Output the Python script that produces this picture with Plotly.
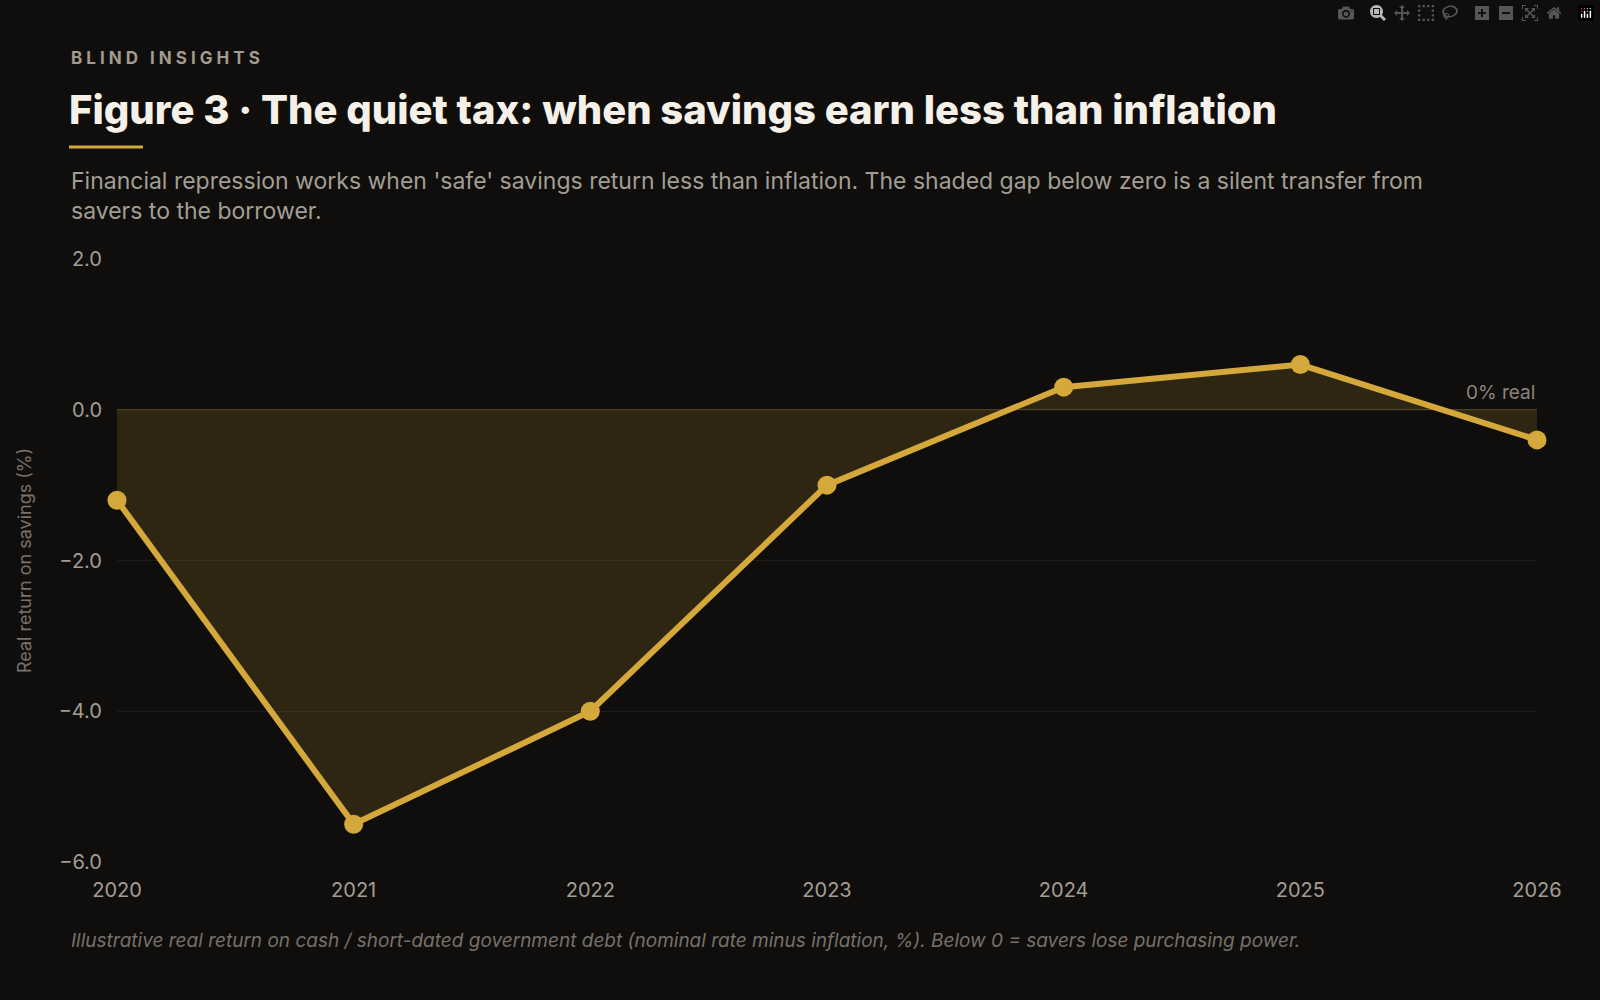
import plotly.graph_objects as go

years = [2020, 2021, 2022, 2023, 2024, 2025, 2026]
real_return = [-1.2, -5.5, -4.0, -1.0, 0.3, 0.6, -0.4]
y_ticks = [2.0, 0.0, -2.0, -4.0, -6.0]

GOLD = '#d4a83a'
FONT = 'Inter, Lato, sans-serif'

W, H = 1600, 1000
L, R, T, B = 117, 63, 259, 138
PW, PH = W - L - R, H - T - B


def px(x):
    return (x - L) / PW


def py(y):
    return (H - B - y) / PH


fig = go.Figure()
fig.add_trace(go.Scatter(
    x=years, y=real_return, mode='lines+markers', fill='tozeroy',
    fillcolor='rgba(212,168,58,0.16)',
    line=dict(color=GOLD, width=6),
    marker=dict(size=19, color=GOLD),
    hoverinfo='x+y', showlegend=False, cliponaxis=False,
))
fig.add_hline(y=0, line_color='rgba(212,168,58,0.3)', line_width=1)

ann = [
    dict(x=px(69), y=py(58), text='<b>B L I N D   I N S I G H T S</b>',
         font=dict(size=17, color='#a39b8c', family=FONT), xanchor='left'),
    dict(x=px(67), y=py(110), text='Figure 3 · The quiet tax: when savings earn less than inflation',
         font=dict(size=40, color='#f5f1e8', family=FONT, weight=800), xanchor='left'),
    dict(x=px(69), y=py(196),
         text="Financial repression works when 'safe' savings return less than inflation. The shaded gap below zero is a silent transfer from<br>savers to the borrower.",
         font=dict(size=23, color='#a39e94', family=FONT), xanchor='left', align='left'),
    dict(x=px(69), y=py(940),
         text='<i>Illustrative real return on cash / short-dated government debt (nominal rate minus inflation, %). Below 0 = savers lose purchasing power.</i>',
         font=dict(size=19, color='#77716a', family=FONT), xanchor='left'),
]
for a in ann:
    fig.add_annotation(xref='paper', yref='paper', yanchor='middle', showarrow=False, **a)
fig.add_annotation(x=2026, y=0, xref='x', yref='y', text='0% real', showarrow=False,
                   xanchor='right', yanchor='bottom', yshift=4,
                   font=dict(size=19, color='#8c857a', family=FONT))

fig.add_shape(type='line', xref='paper', yref='paper', x0=px(69), x1=px(143),
              y0=py(147), y1=py(147), line=dict(color=GOLD, width=3))

fig.update_layout(
    width=W, height=H,
    margin=dict(l=L, r=R, t=T, b=B),
    paper_bgcolor='#0f0e0c', plot_bgcolor='#0f0e0c',
    font=dict(family=FONT, color='#a39e94'),
    xaxis=dict(range=[2020, 2026], tickvals=years, showgrid=False, zeroline=False,
               tickfont=dict(size=20, color='#a39e94'), ticks='', ticklabelstandoff=14),
    yaxis=dict(range=[-6, 2], tickvals=y_ticks, tickformat='.1f',
               gridcolor='rgba(255,255,255,0.06)', zeroline=False,
               tickfont=dict(size=20, color='#a39e94'), ticklabelstandoff=14,
               title=dict(text='Real return on savings (%)', font=dict(size=18, color='#77716a'),
                          standoff=22)),
)
fig.write_html('out.html',
               post_script="document.body.style.margin='0';document.body.style.background='#0f0e0c';")
